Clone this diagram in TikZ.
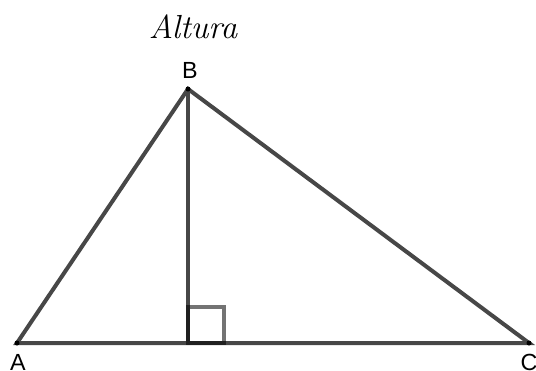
\documentclass[tikz,border=0pt]{standalone}
\usepackage{fontspec}
\setsansfont{Liberation Sans}

\begin{document}
\begin{tikzpicture}[x=0.75pt, y=-0.75pt,
	every node/.style={font=\sffamily\fontsize{17.5}{20}\selectfont},
	side/.style={draw=black!72, line width=3pt, line cap=round},
	rightangle/.style={draw=black, draw opacity=0.55, line width=2.3pt},
	vertex/.style={fill=black}]
	\useasboundingbox (0,0) rectangle (536,371);
	% vertices and foot of the altitude
	\coordinate (A) at (17,343);
	\coordinate (B) at (188,89);
	\coordinate (C) at (529,343);
	\coordinate (H) at (188,343);
	\coordinate (Q) at (224,307);
	\draw[side] (A) -- (B) -- (C) -- cycle;
	\draw[side] (B) -- (H);
	\draw[rightangle] (H) rectangle (Q);
	\foreach \p in {A,B,C} {\fill[vertex] (\p) circle (2.5);}
	\node (labA) at (18,362) {A};
	\node (labB) at (190,70) {B};
	\node (labC) at (529,362) {C};
	\node[font=\rmfamily\itshape\fontsize{25}{30}\selectfont] (title) at (193,27) {Altura};
\end{tikzpicture}
\end{document}
